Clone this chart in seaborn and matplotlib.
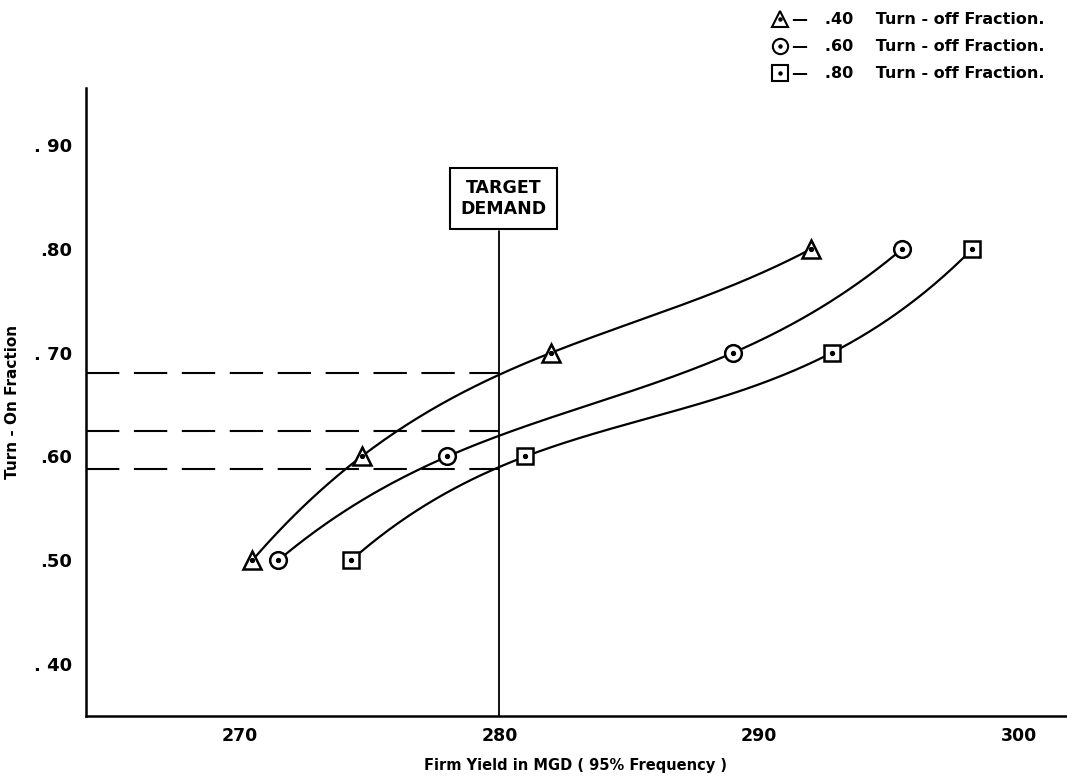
import numpy as np
import pandas as pd
import matplotlib
matplotlib.use("Agg")
import matplotlib.pyplot as plt
from matplotlib.lines import Line2D
import seaborn as sns

# ---- data ----
turn_on = [0.50, 0.60, 0.70, 0.80]
yield_040 = [270.5, 274.7, 282.0, 292.0]
yield_060 = [271.5, 278.0, 289.0, 295.5]
yield_080 = [274.3, 281.0, 292.8, 298.2]
series_labels = [".40", ".60", ".80"]
target_demand = 280.0
target_levels = [0.680, 0.625, 0.588]
x_ticks = [270, 280, 290, 300]
y_ticks = [0.40, 0.50, 0.60, 0.70, 0.80, 0.90]
y_tick_labels = [". 40", ".50", ".60", ". 70", ".80", ". 90"]

sns.set_theme(style="white")
plt.rcParams["font.family"] = ["DejaVu Sans"]
plt.rcParams["font.weight"] = "bold"
plt.rcParams["text.color"] = "black"
plt.rcParams["axes.labelcolor"] = "black"
plt.rcParams["xtick.color"] = "black"
plt.rcParams["ytick.color"] = "black"

fig = plt.figure(figsize=(10.67, 7.78), dpi=100)
ax = fig.add_axes([86 / 1067, 1 - 716 / 778, (1066 - 86) / 1067, (716 - 88) / 778])
ax.set_xlim(264.1, 301.8)
ax.set_ylim(0.35, 0.955)

markers = ["^", "o", "s"]
sizes = [13, 12, 12]
all_series = [yield_040, yield_060, yield_080]

# smooth curves (cubic through the four points, y as a function of x)
for xs in all_series:
    coef = np.polyfit(xs, turn_on, 3)
    xx = np.linspace(xs[0], xs[-1], 200)
    df = pd.DataFrame({"x": xx, "y": np.polyval(coef, xx)})
    sns.lineplot(data=df, x="x", y="y", ax=ax, color="black", lw=1.6,
                 sort=False, estimator=None, zorder=3)

# markers with center dot
for xs, m, s in zip(all_series, markers, sizes):
    ax.plot(xs, turn_on, linestyle="none", marker=m, ms=s, mfc="white",
            mec="black", mew=1.8, zorder=4)
    ax.plot(xs, turn_on, linestyle="none", marker="o", ms=2.8,
            color="black", zorder=5)

# target demand vertical line and dashed levels
ax.plot([target_demand, target_demand], [0.35, 0.817], color="black", lw=1.3, zorder=2)
for lev in target_levels:
    ax.plot([264.1, target_demand], [lev, lev], color="black", lw=1.5,
            dashes=(16, 7), zorder=2)

ax.text(target_demand + 0.15, 0.8485, "TARGET\nDEMAND", ha="center", va="center",
        fontsize=12.5, fontweight="bold", linespacing=1.25,
        bbox=dict(boxstyle="square,pad=0.6", fc="white", ec="black", lw=1.5),
        zorder=6)

# axes styling
for side in ["top", "right"]:
    ax.spines[side].set_visible(False)
for side in ["left", "bottom"]:
    ax.spines[side].set_linewidth(1.8)
    ax.spines[side].set_color("black")
ax.set_xticks(x_ticks)
ax.set_xticklabels([str(t) for t in x_ticks], fontsize=12.5, fontweight="bold")
ax.set_yticks(y_ticks)
ax.set_yticklabels(y_tick_labels, fontsize=13, fontweight="bold")
ax.tick_params(axis="x", direction="in", length=5, width=1.2, pad=8)
ax.tick_params(axis="y", direction="in", length=5, width=1.2, pad=10)
ax.set_xlabel("Firm Yield in MGD ( 95% Frequency )", fontsize=10.5,
              fontweight="bold", labelpad=9)
ax.set_ylabel("Turn - On Fraction", fontsize=11, fontweight="bold", labelpad=10)
ax.grid(False)

# legend
handles = []
for m, s in zip(markers, sizes):
    h1 = Line2D([], [], linestyle="none", marker=m, ms=s - 1, mfc="white",
                mec="black", mew=1.5)
    h2 = Line2D([], [], linestyle="none", marker="o", ms=2.2, color="black")
    handles.append((h1, h2))
labels = [f"—   {lab}    Turn - off Fraction." for lab in series_labels]
leg = fig.legend(handles, labels, loc="upper left", bbox_to_anchor=(766 / 1067, 1 - 6 / 778),
                 frameon=False, handlelength=1.0, handletextpad=0.2,
                 labelspacing=0.75, fontsize=11.5, borderaxespad=0)
for t in leg.get_texts():
    t.set_fontweight("bold")
    t.set_color("black")

fig.savefig("out.png", dpi=100)
